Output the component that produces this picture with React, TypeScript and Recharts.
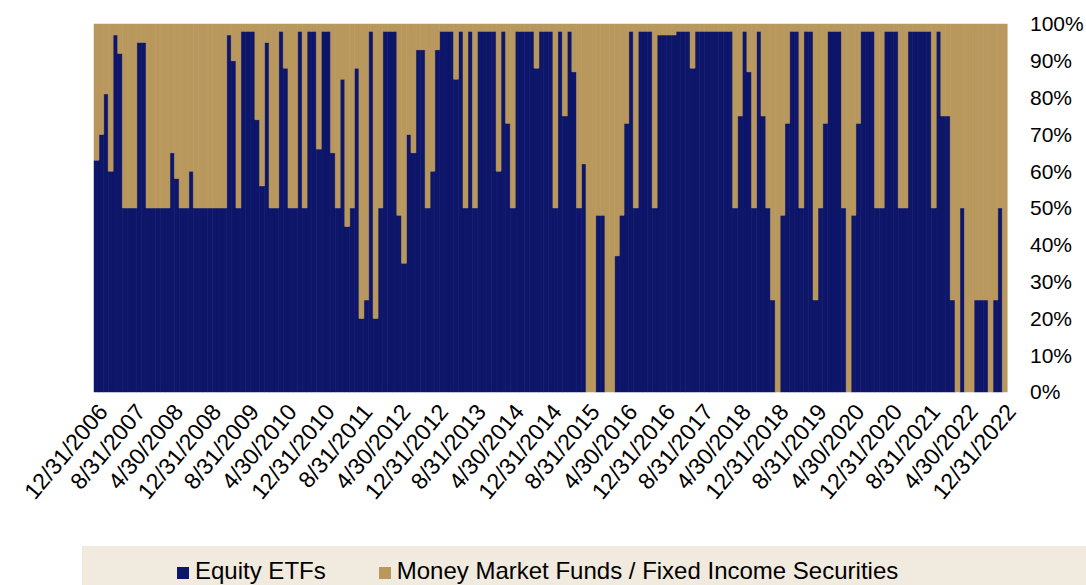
import { Bar, BarChart, Legend, XAxis, YAxis } from "recharts";

// month-end dates, 12/31/2006 .. 12/31/2022
const firstYear = 2006;
const firstMonth = 12;
const monthCount = 193;

const yTicks = [0, 10, 20, 30, 40, 50, 60, 70, 80, 90, 100];

// % in Equity ETFs
const equityEtfs = [
  63, 70, 81, 60, 97, 92, 50, 50, 50, 95,
  95, 50, 50, 50, 50, 50, 65, 58, 50, 50,
  60, 50, 50, 50, 50, 50, 50, 50, 97, 90,
  50, 98, 98, 98, 74, 56, 95, 50, 50, 98,
  88, 50, 50, 98, 50, 98, 98, 66, 98, 98,
  65, 50, 85, 45, 50, 88, 20, 25, 98, 20,
  50, 98, 98, 98, 48, 35, 70, 65, 93, 93,
  50, 60, 93, 98, 98, 98, 85, 98, 50, 98,
  50, 98, 98, 98, 98, 60, 98, 73, 50, 98,
  98, 98, 98, 88, 98, 98, 98, 50, 98, 75,
  98, 87, 50, 62, 0, 0, 48, 48, 0, 0,
  37, 48, 73, 98, 50, 98, 98, 98, 50, 97,
  97, 97, 97, 98, 98, 98, 88, 98, 98, 98,
  98, 98, 98, 98, 98, 50, 75, 98, 87, 50,
  98, 75, 50, 25, 0, 48, 73, 98, 98, 50,
  98, 98, 25, 50, 73, 98, 98, 98, 50, 0,
  48, 73, 98, 98, 98, 50, 50, 98, 98, 98,
  50, 50, 98, 98, 98, 98, 98, 50, 98, 75,
  75, 25, 0, 50, 0, 0, 25, 25, 25, 0,
  25, 50, 0,
];

// % in Money Market Funds / Fixed Income Securities
const moneyMarket = [
  37, 30, 19, 40, 3, 8, 50, 50, 50, 5,
  5, 50, 50, 50, 50, 50, 35, 42, 50, 50,
  40, 50, 50, 50, 50, 50, 50, 50, 3, 10,
  50, 2, 2, 2, 26, 44, 5, 50, 50, 2,
  12, 50, 50, 2, 50, 2, 2, 34, 2, 2,
  35, 50, 15, 55, 50, 12, 80, 75, 2, 80,
  50, 2, 2, 2, 52, 65, 30, 35, 7, 7,
  50, 40, 7, 2, 2, 2, 15, 2, 50, 2,
  50, 2, 2, 2, 2, 40, 2, 27, 50, 2,
  2, 2, 2, 12, 2, 2, 2, 50, 2, 25,
  2, 13, 50, 38, 100, 100, 52, 52, 100, 100,
  63, 52, 27, 2, 50, 2, 2, 2, 50, 3,
  3, 3, 3, 2, 2, 2, 12, 2, 2, 2,
  2, 2, 2, 2, 2, 50, 25, 2, 13, 50,
  2, 25, 50, 75, 100, 52, 27, 2, 2, 50,
  2, 2, 75, 50, 27, 2, 2, 2, 50, 100,
  52, 27, 2, 2, 2, 50, 50, 2, 2, 2,
  50, 50, 2, 2, 2, 2, 2, 50, 2, 25,
  25, 75, 100, 50, 100, 100, 75, 75, 75, 100,
  75, 50, 100,
];

const NAVY = "#0E166A";
const GOLD = "#B9985E";
const FONT = "'Liberation Sans', Arial, sans-serif";

const monthEnds: string[] = [];
for (let i = 0; i < monthCount; i++) {
  const m0 = firstMonth - 1 + i;
  const y = firstYear + Math.floor(m0 / 12);
  const m = (m0 % 12) + 1;
  const d = new Date(y, m, 0).getDate();
  monthEnds.push(`${m}/${d}/${y}`);
}

const data = monthEnds.map((date, i) => ({
  date,
  equity: equityEtfs[i],
  money: moneyMarket[i],
}));

const renderLegend = () => (
  <div
    style={{
      display: "flex",
      alignItems: "center",
      paddingLeft: 95,
      paddingTop: 11,
      fontFamily: FONT,
      fontSize: 24,
      lineHeight: "28px",
      color: "#000",
    }}
  >
    <span style={{ width: 12, height: 12, background: NAVY, marginRight: 6, marginTop: 3 }} />
    <span style={{ marginRight: 53 }}>Equity ETFs</span>
    <span style={{ width: 12, height: 12, background: GOLD, marginRight: 6, marginTop: 3 }} />
    <span>Money Market Funds / Fixed Income Securities</span>
  </div>
);

export default function App() {
  return (
    <div>
      <style>{`body{margin:0;overflow:hidden;background:#fff}`}</style>
      <BarChart
        width={1086}
        height={585}
        data={data}
        margin={{ top: 24, right: 0, bottom: 73, left: 94 }}
        barCategoryGap={0}
        barGap={0}
      >
        <XAxis
          dataKey="date"
          interval={7}
          axisLine={false}
          tickLine={false}
          tickSize={0}
          tickMargin={10}
          height={120}
          angle={-50}
          textAnchor="end"
          tick={{ fill: "#000", fontSize: 23, fontFamily: FONT }}
        />
        <YAxis
          orientation="right"
          domain={[0, 100]}
          ticks={yTicks}
          tickFormatter={(v) => `${v}%`}
          axisLine={false}
          tickLine={false}
          tickSize={0}
          tickMargin={23}
          width={79}
          tick={{ fill: "#000", fontSize: 21, fontFamily: FONT, textAnchor: "start" }}
        />
        <Legend
          verticalAlign="middle"
          align="center"
          layout="horizontal"
          content={renderLegend}
          wrapperStyle={{
            top: 546,
            left: 82,
            width: 1004,
            height: 39,
            background: "#F0EADF",
          }}
        />
        <Bar
          dataKey="equity"
          name="Equity ETFs"
          stackId="a"
          fill={NAVY}
          stroke={NAVY}
          strokeWidth={0.5}
          isAnimationActive={false}
        />
        <Bar
          dataKey="money"
          name="Money Market Funds / Fixed Income Securities"
          stackId="a"
          fill={GOLD}
          stroke={GOLD}
          strokeWidth={0.5}
          isAnimationActive={false}
        />
      </BarChart>
    </div>
  );
}
